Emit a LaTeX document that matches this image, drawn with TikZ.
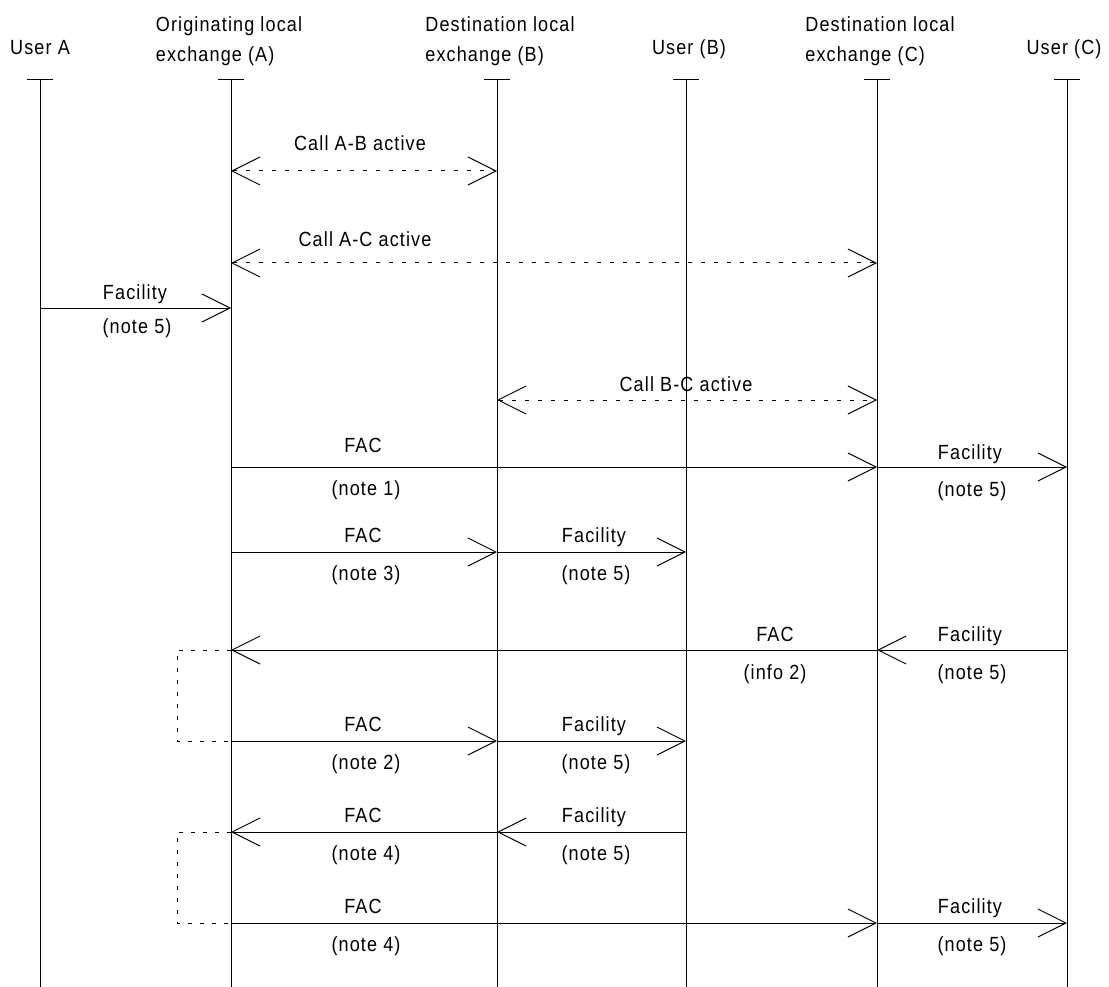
\documentclass[tikz,border=0pt]{standalone}
\usepackage{fontspec}
\setmainfont{Liberation Sans}[FakeStretch=0.88,LetterSpace=5.5]
\usetikzlibrary{arrows.meta}

\tikzset{
  life/.style={line width=1pt},
  msg/.style={line width=1pt, -{Straight Barb[length=28pt,width=28pt]}},
  call/.style={line width=1pt, dash pattern=on 4pt off 9pt,
    {Straight Barb[length=28pt,width=28pt]}-{Straight Barb[length=28pt,width=28pt]}},
  link/.style={line width=0.8pt, dash pattern=on 4pt off 8pt},
  lbl/.style={font=\fontsize{20.5}{30}\selectfont, inner sep=0pt, anchor=base},
  head/.style={font=\fontsize{20.5}{30}\selectfont, inner sep=0pt, align=left}
}

\begin{document}
\begin{tikzpicture}[x=1pt,y=-1pt]
\useasboundingbox (0,0) rectangle (1109,987);

\node[lbl] (hua) at (40,55) {User A};
\node[head] (hxa) at (229,41) {Originating local\\exchange (A)};
\node[head] (hxb) at (500,41) {Destination local\\exchange (B)};
\node[lbl] (hub) at (689,55) {User (B)};
\node[head] (hxc) at (880,41) {Destination local\\exchange (C)};
\node[lbl] (huc) at (1064,55) {User (C)};

\coordinate (ua) at (40,80);
\coordinate (xa) at (231,80);
\coordinate (xb) at (497,80);
\coordinate (ub) at (686,80);
\coordinate (xc) at (877,80);
\coordinate (uc) at (1067,80);
\coordinate (bot) at (0,987);

\draw[life] ([xshift=-13pt]ua) -- ([xshift=13pt]ua) (ua) -- (ua |- bot);
\draw[life] ([xshift=-13pt]xa) -- ([xshift=13pt]xa) (xa) -- (xa |- bot);
\draw[life] ([xshift=-13pt]xb) -- ([xshift=13pt]xb) (xb) -- (xb |- bot);
\draw[life] ([xshift=-13pt]ub) -- ([xshift=13pt]ub) (ub) -- (ub |- bot);
\draw[life] ([xshift=-13pt]xc) -- ([xshift=13pt]xc) (xc) -- (xc |- bot);
\draw[life] ([xshift=-13pt]uc) -- ([xshift=13pt]uc) (uc) -- (uc |- bot);

\draw[call] (xa |- 0,171) -- (xb |- 0,171);
\node[lbl] (cab) at (360,151) {Call A-B active};

\draw[call] (xa |- 0,263) -- (xc |- 0,263);
\node[lbl] (cac) at (365,247) {Call A-C active};

\draw[msg] (ua |- 0,308) -- (xa |- 0,308);
\node[lbl] (f1) at (135,299) {Facility};
\node[lbl] (n1) at (137,333) {(note 5)};

\draw[call] (xb |- 0,400) -- (xc |- 0,400);
\node[lbl] (cbc) at (686,391) {Call B-C active};

\draw[msg] (xa |- 0,467) -- (xc |- 0,467);
\draw[msg] (xc |- 0,467) -- (uc |- 0,467);
\node[lbl] (fac1) at (363,452) {FAC};
\node[lbl] (nfac1) at (366,495) {(note 1)};
\node[lbl] (f2) at (970,459) {Facility};
\node[lbl] (n2) at (972,496) {(note 5)};

\draw[msg] (xa |- 0,552) -- (xb |- 0,552);
\draw[msg] (xb |- 0,552) -- (ub |- 0,552);
\node[lbl] (fac2) at (363,542) {FAC};
\node[lbl] (nfac2) at (366,580) {(note 3)};
\node[lbl] (f3) at (594,542) {Facility};
\node[lbl] (n3) at (596,580) {(note 5)};

\draw[msg] (uc |- 0,650) -- (xc |- 0,650);
\draw[msg] (xc |- 0,650) -- (xa |- 0,650);
\node[lbl] (fac3) at (775,641) {FAC};
\node[lbl] (nfac3) at (775,679) {(info 2)};
\node[lbl] (f4) at (970,641) {Facility};
\node[lbl] (n4) at (972,679) {(note 5)};

\draw[msg] (xa |- 0,741) -- (xb |- 0,741);
\draw[msg] (xb |- 0,741) -- (ub |- 0,741);
\node[lbl] (fac4) at (363,731) {FAC};
\node[lbl] (nfac4) at (366,769) {(note 2)};
\node[lbl] (f5) at (594,731) {Facility};
\node[lbl] (n5) at (596,769) {(note 5)};

\draw[msg] (ub |- 0,832) -- (xb |- 0,832);
\draw[msg] (xb |- 0,832) -- (xa |- 0,832);
\node[lbl] (fac5) at (363,822) {FAC};
\node[lbl] (nfac5) at (366,860) {(note 4)};
\node[lbl] (f6) at (594,822) {Facility};
\node[lbl] (n6) at (596,860) {(note 5)};

\draw[msg] (xa |- 0,923) -- (xc |- 0,923);
\draw[msg] (xc |- 0,923) -- (uc |- 0,923);
\node[lbl] (fac6) at (363,913) {FAC};
\node[lbl] (nfac6) at (366,951) {(note 4)};
\node[lbl] (f7) at (970,913) {Facility};
\node[lbl] (n7) at (972,951) {(note 5)};

\coordinate (b1) at (177,650);
\coordinate (b2) at (177,741);
\coordinate (b3) at (177,832);
\coordinate (b4) at (177,923);
\draw[link] (xa |- b1) -- (b1) -- (b2) -- (xa |- b2);
\draw[link] (xa |- b3) -- (b3) -- (b4) -- (xa |- b4);
\end{tikzpicture}
\end{document}
